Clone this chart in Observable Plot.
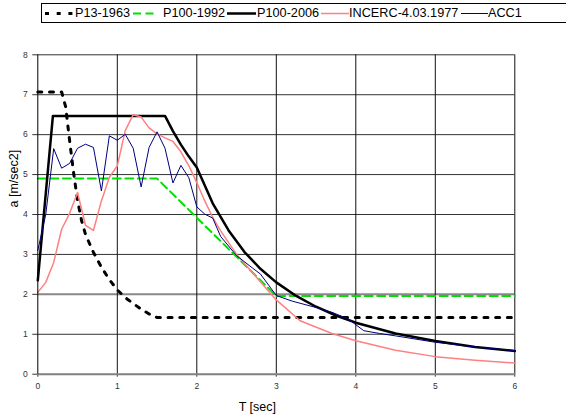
<!DOCTYPE html>
<html>
<head>
<meta charset="utf-8">
<script src="https://cdn.jsdelivr.net/npm/d3@7"></script>
<script src="https://cdn.jsdelivr.net/npm/@observablehq/plot@0.6"></script>
<style>
  body { margin: 0; background: #fff; }
  #wrap { position: relative; width: 566px; height: 419px; overflow: hidden; font-family: "Liberation Sans", Arial, sans-serif; }
  #legend { position: absolute; left: 41px; top: 3px; width: 560px; height: 18px; border: 1px solid #000; background: #fff; }
  .item { position: absolute; top: 0; height: 18px; font-size: 12.7px; line-height: 18px; color: #000; white-space: nowrap; }
  .item svg { position: absolute; top: 0; left: 0; }
  .item span { position: absolute; top: 0; }
</style>
</head>
<body>
<div id="wrap"><div id="chart"></div><div id="legend"></div></div>
<script>
// ---- data ----
const seriesNames = ["P13-1963", "P100-1992", "P100-2006", "INCERC-4.03.1977", "ACC1"];

const T13 = [0, 0.3, 0.35, 0.4, 0.45, 0.5, 0.55, 0.6, 0.7, 0.8, 0.9, 1.0, 1.1, 1.2, 1.3, 1.4, 1.5, 6];
const A13 = [7.07, 7.07, 6.7, 5.85, 5.05, 4.35, 3.85, 3.5, 3.05, 2.68, 2.37, 2.11, 1.92, 1.77, 1.63, 1.51, 1.42, 1.42];

const T92 = [0, 1.5, 3.0, 6];
const A92 = [4.9, 4.9, 1.96, 1.96];

const T06 = [0, 0.19, 1.6, 1.7, 1.8, 1.9, 2.0, 2.2, 2.4, 2.6, 2.8, 3.0, 3.25, 3.5, 3.75, 4.0, 4.5, 5.0, 5.5, 6.0];
const A06 = [2.35, 6.47, 6.47, 6.09, 5.75, 5.45, 5.18, 4.28, 3.6, 3.06, 2.64, 2.3, 1.96, 1.69, 1.47, 1.29, 1.02, 0.83, 0.68, 0.58];

const TI = [0, 0.1, 0.2, 0.3, 0.4, 0.5, 0.6, 0.7, 0.8, 0.9, 1.0, 1.1, 1.2, 1.3, 1.4, 1.5, 1.6, 1.7, 1.8, 1.9, 2.0, 2.1, 2.2, 2.3, 2.5, 2.75, 3.0, 3.3, 3.7, 4.0, 4.5, 5.0, 5.5, 6.0];
const AI = [2.05, 2.3, 2.8, 3.63, 4.03, 4.55, 3.73, 3.6, 4.34, 4.93, 5.22, 6.1, 6.5, 6.44, 6.17, 6.02, 5.92, 5.83, 5.57, 5.22, 4.8, 4.34, 3.93, 3.59, 3.0, 2.43, 1.86, 1.34, 1.02, 0.84, 0.6, 0.44, 0.35, 0.28];

const TA = [0, 0.1, 0.2, 0.3, 0.4, 0.5, 0.6, 0.7, 0.8, 0.9, 1.0, 1.1, 1.2, 1.3, 1.4, 1.5, 1.6, 1.7, 1.8, 1.9, 2.0, 2.1, 2.2, 2.3, 2.5, 2.7, 2.8, 3.0, 3.2, 3.5, 3.7, 3.9, 4.1, 4.3, 4.5, 5.0, 5.5, 6.0];
const AA = [3.1, 4.0, 5.65, 5.16, 5.28, 5.66, 5.76, 5.68, 4.59, 5.97, 5.86, 6.01, 5.66, 4.69, 5.68, 6.07, 5.66, 4.79, 5.23, 4.92, 4.19, 4.01, 3.91, 3.45, 2.97, 2.66, 2.51, 1.97, 1.83, 1.67, 1.55, 1.39, 1.09, 1.02, 0.96, 0.8, 0.68, 0.59];

const xTicks = [0, 1, 2, 3, 4, 5, 6];
const yTicks = [0, 1, 2, 3, 4, 5, 6, 7, 8];
const xLabel = "T [sec]";
const yLabel = "a [m/sec2]";

const toRows = (T, A) => T.map((t, i) => ({t, a: A[i]}));

const styles = [
  {stroke: "#000", strokeWidth: 3, strokeDasharray: "4,7.7"},
  {stroke: "#00e000", strokeWidth: 2, strokeDasharray: "8,4.5"},
  {stroke: "#000", strokeWidth: 2.5},
  {stroke: "#ff8080", strokeWidth: 1.5},
  {stroke: "#000080", strokeWidth: 1}
];
const data = [toRows(T13, A13), toRows(T92, A92), toRows(T06, A06), toRows(TI, AI), toRows(TA, AA)];

const chart = Plot.plot({
  width: 566,
  height: 419,
  marginLeft: 37.3,
  marginRight: 51.7,
  marginTop: 54.3,
  marginBottom: 45.3,
  style: {fontFamily: "Liberation Sans, Arial, sans-serif", background: "transparent"},
  x: {domain: [0, 6]},
  y: {domain: [0, 8]},
  marks: [
    Plot.gridY(yTicks.filter(d => d !== 0 && d !== 2), {stroke: "#333", strokeOpacity: 1, strokeWidth: 1}),
    Plot.ruleY([2], {stroke: "#888", strokeWidth: 2}),
    Plot.gridX(xTicks.filter(d => d !== 0), {stroke: "#111", strokeOpacity: 1, strokeWidth: 1}),
    Plot.axisY(yTicks, {tickSize: 5, tickPadding: 5, fontSize: 8.5, fill: "#333", stroke: "#333", label: null, tickFormat: d3.format("d")}),
    Plot.axisX(xTicks, {tickSize: 3, tickPadding: 6, fontSize: 8.5, fill: "#333", stroke: "#333", label: null, tickFormat: d3.format("d")}),
    ...data.map((rows, i) => Plot.line(rows, {x: "t", y: "a", ...styles[i]})),
    Plot.ruleY([0], {stroke: "#808080", strokeWidth: 2}),
    Plot.ruleX([0], {stroke: "#000", strokeWidth: 1}),
    Plot.text([yLabel], {text: d => d, frameAnchor: "left", dx: -24, dy: -7, rotate: -90, fontSize: 12.5, fill: "#000"}),
    Plot.text([xLabel], {text: d => d, frameAnchor: "bottom", dx: -19, dy: 33, lineAnchor: "middle", fontSize: 12.5, fill: "#000"})
  ]
});
document.getElementById("chart").appendChild(chart);

// ---- legend ----
const legendPos = [
  {sample: [3, 31], text: 33},
  {sample: [91, 114], text: 121},
  {sample: [185, 214], text: 215},
  {sample: [279, 307], text: 307},
  {sample: [419, 446], text: 446}
];
const legend = document.getElementById("legend");
seriesNames.forEach((name, i) => {
  const p = legendPos[i];
  const item = document.createElement("div");
  item.className = "item";
  item.style.left = "0px";
  const s = styles[i];
  const svg = `<svg width="${p.sample[1] + 2}" height="18"><line x1="${p.sample[0]}" x2="${p.sample[1]}" y1="9.5" y2="9.5" stroke="${s.stroke}" stroke-width="${s.strokeWidth}" ${s.strokeDasharray ? `stroke-dasharray="${s.strokeDasharray}"` : ""}/></svg>`;
  item.innerHTML = svg + `<span style="left:${p.text}px">${name}</span>`;
  legend.appendChild(item);
});
</script>
</body>
</html>
